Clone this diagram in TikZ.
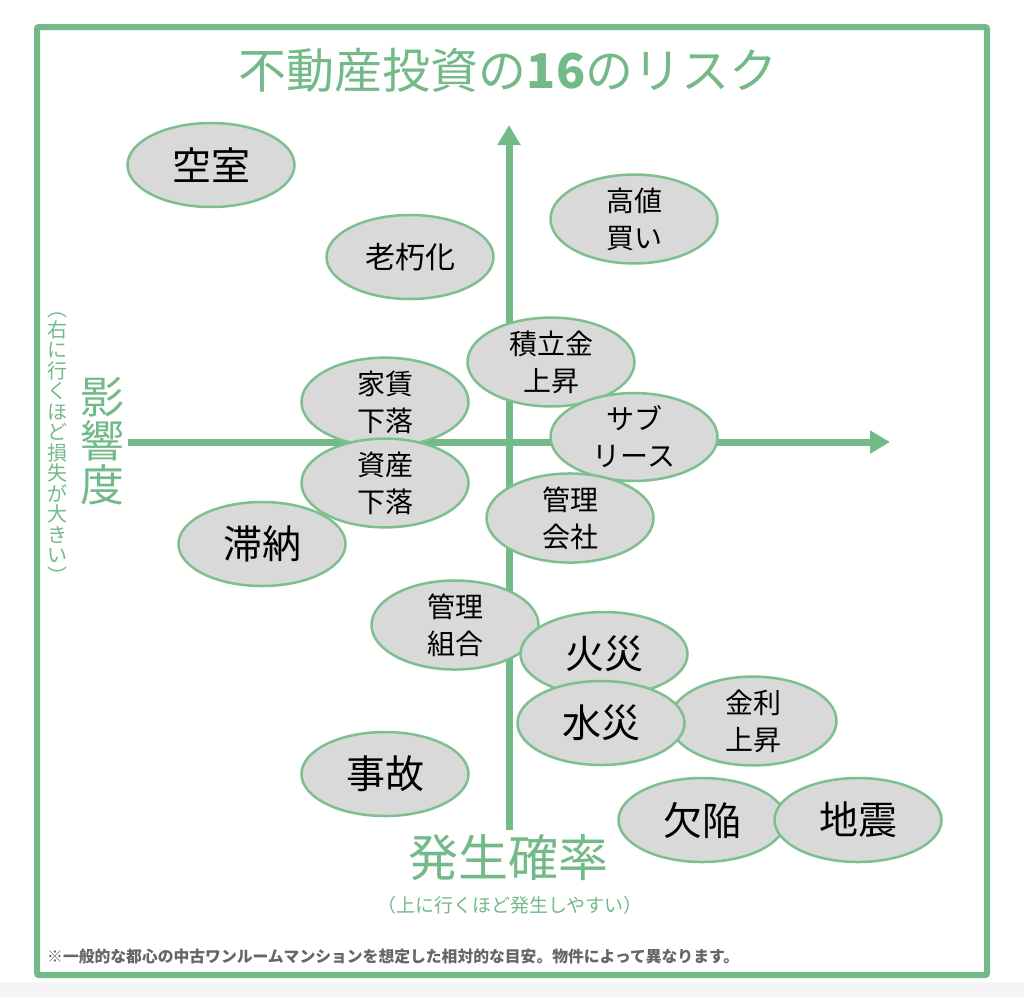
\documentclass[tikz,border=0pt]{standalone}
\usepackage{fontspec}
\setmainfont{Noto Sans CJK JP}
\usetikzlibrary{shapes.geometric,arrows.meta}
\definecolor{grn}{HTML}{73BA88}
\definecolor{ebd}{HTML}{7DBF8F}
\definecolor{efill}{HTML}{D9D9D9}
\definecolor{notegray}{HTML}{666666}
\begin{document}
\begin{tikzpicture}[x=1pt,y=-1pt,
  risk/.style={ellipse,draw=ebd,line width=2.5pt,fill=efill,minimum width=167pt,minimum height=84pt,inner sep=0pt,align=center,text=black},
  big/.style={risk,font=\fontsize{39}{39}\selectfont},
  mid/.style={risk,font=\fontsize{30}{30}\selectfont},
  two/.style={risk,font=\fontsize{28}{37}\selectfont},
  axisline/.style={draw=grn,line width=7pt,-{Triangle[length=20pt,width=22pt]}},
  greentext/.style={text=grn,inner sep=0pt,align=center}]
\useasboundingbox (0,0) rectangle (1024,997);
\fill[white] (0,0) rectangle (1024,997);
\fill[black!4] (0,982) rectangle (1024,997);
\draw[grn,line width=6pt,rounded corners=2pt] (37,27) rectangle (987,975);
% axes
\coordinate (vbot) at (509,830);
\coordinate (vtop) at (509,125);
\coordinate (hleft) at (128,442);
\coordinate (hright) at (890,442);
\draw[axisline] (vbot) -- (vtop);
\draw[axisline] (hleft) -- (hright);
% title and labels
\node[greentext,font=\fontsize{48}{48}\selectfont] (title) at (508,70) {不動産投資の\textbf{16}のリスク};
\node[greentext,font=\fontsize{44}{44}\selectfont] (eikyo) at (102,441) {影\\響\\度};
\node[greentext,font=\fontsize{20}{20.5}\selectfont] (eikyonote) at (57,448) {︵\\右\\に\\行\\く\\ほ\\ど\\損\\失\\が\\大\\き\\い\\︶};
\node[greentext,font=\fontsize{50}{50}\selectfont] (hassei) at (508,858) {発生確率};
\node[greentext,font=\fontsize{19}{19}\selectfont] (hasseinote) at (510,905) {（上に行くほど発生しやすい）};
\node[anchor=west,text=notegray,inner sep=0pt,font=\fontsize{15.8}{16}\selectfont\bfseries] (footnote) at (47,957) {※一般的な都心の中古ワンルームマンションを想定した相対的な目安。物件によって異なります。};
% risks
\node[big] (kushitsu) at (211,165) {空室};
\node[two] (takane) at (634,219) {高値\\買い};
\node[mid] (rokyu) at (410,257) {老朽化};
\node[two] (tsumitate) at (551,362) {積立金\\上昇};
\node[two] (yachin) at (385,402) {家賃\\下落};
\node[two] (sublease) at (634,437) {サブ\\リース};
\node[two] (shisan) at (385,483) {資産\\下落};
\node[two] (kanrikaisha) at (570,518) {管理\\会社};
\node[big] (tainou) at (262,544) {滞納};
\node[two] (kumiai) at (455,625) {管理\\組合};
\node[big] (kasai) at (604,654) {火災};
\node[two] (kinri) at (753,721) {金利\\上昇};
\node[big] (suisai) at (601,723) {水災};
\node[big] (jiko) at (385,774) {事故};
\node[big] (kekkan) at (702,820) {欠陥};
\node[big] (jishin) at (858,820) {地震};
\end{tikzpicture}
\end{document}
